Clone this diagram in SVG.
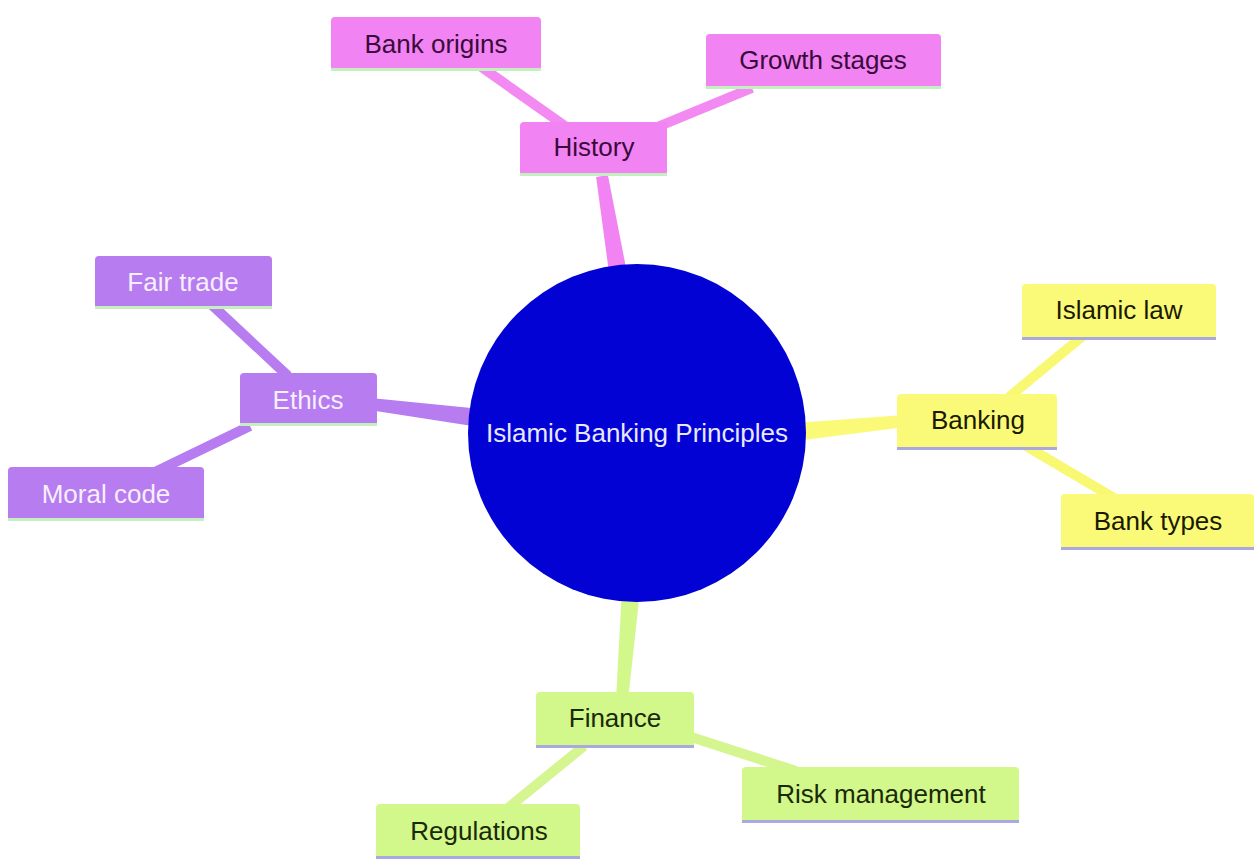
<svg xmlns="http://www.w3.org/2000/svg" width="1254" height="859" viewBox="0 0 1254 859">
<style>
text{font-family:"Liberation Sans",Arial,sans-serif;font-size:26px;text-anchor:middle;dominant-baseline:central}
.pk{fill:#f283f2}.pkL{stroke:#f28af2}.pkT{fill:#3a0a3a}
.pu{fill:#b67cf0}.puL{stroke:#b67cf0}.puT{fill:#f6efff}
.ye{fill:#fafa78}.yeL{stroke:#f8f872}.yeT{fill:#1a1a00}
.gr{fill:#d2f78a}.grL{stroke:#d4f590}.grT{fill:#1a2a08}
.bg{fill:#c4f0c0}.bb{fill:#aaa8e0}
.leaf{stroke-width:10;stroke-linecap:butt;fill:none}
</style>
<rect width="1254" height="859" fill="#ffffff"/>
<g id="connectors">
<polygon class="pk" points="628,278 607.9,175 596.1,177 610,280"/>
<polygon class="pu" points="481.1,409.1 370.75,398 369.25,410 478.9,426.9"/>
<polygon class="ye" points="795.9,441 905.6,427 904.4,415 794.1,423"/>
<polygon class="gr" points="640,590.7 628,700.5 616,699.5 622,589.3"/>
<line class="leaf pkL" x1="480" y1="66" x2="565" y2="126"/>
<line class="leaf pkL" x1="752" y1="88" x2="650" y2="130"/>
<line class="leaf puL" x1="212" y1="305" x2="288" y2="376"/>
<line class="leaf puL" x1="250" y1="426" x2="155" y2="472"/>
<line class="leaf yeL" x1="1084" y1="335" x2="1008" y2="398"/>
<line class="leaf yeL" x1="1026" y1="446" x2="1114" y2="498"/>
<line class="leaf grL" x1="584" y1="746" x2="508" y2="808"/>
<line class="leaf grL" x1="688" y1="736" x2="796" y2="771"/>
</g>
<g id="center">
<circle cx="637" cy="433" r="169" fill="#0202d4"/>
<text x="637" y="433" fill="#e8e8ff">Islamic Banking Principles</text>
</g>
<g id="history">
<rect class="pk" x="520" y="122" width="147" height="54" rx="4"/>
<rect class="bg" x="520" y="173" width="147" height="3"/>
<text class="pkT" x="594" y="147">History</text>
</g>
<g id="bank-origins">
<rect class="pk" x="331" y="17" width="210" height="54" rx="4"/>
<rect class="bg" x="331" y="68" width="210" height="3"/>
<text class="pkT" x="436" y="44">Bank origins</text>
</g>
<g id="growth-stages">
<rect class="pk" x="706" y="34" width="235" height="55" rx="4"/>
<rect class="bg" x="706" y="86" width="235" height="3"/>
<text class="pkT" x="823" y="60">Growth stages</text>
</g>
<g id="ethics">
<rect class="pu" x="240" y="373" width="137" height="53" rx="4"/>
<rect class="bg" x="240" y="423" width="137" height="3"/>
<text class="puT" x="308" y="400">Ethics</text>
</g>
<g id="fair-trade">
<rect class="pu" x="95" y="256" width="177" height="53" rx="4"/>
<rect class="bg" x="95" y="306" width="177" height="3"/>
<text class="puT" x="183" y="282">Fair trade</text>
</g>
<g id="moral-code">
<rect class="pu" x="8" y="467" width="196" height="54" rx="4"/>
<rect class="bg" x="8" y="518" width="196" height="3"/>
<text class="puT" x="106" y="494">Moral code</text>
</g>
<g id="banking">
<rect class="ye" x="897" y="394" width="160" height="56" rx="4"/>
<rect class="bb" x="897" y="447" width="160" height="3"/>
<text class="yeT" x="978" y="420">Banking</text>
</g>
<g id="islamic-law">
<rect class="ye" x="1022" y="284" width="194" height="56" rx="4"/>
<rect class="bb" x="1022" y="337" width="194" height="3"/>
<text class="yeT" x="1119" y="310">Islamic law</text>
</g>
<g id="bank-types">
<rect class="ye" x="1061" y="494" width="193" height="56" rx="4"/>
<rect class="bb" x="1061" y="547" width="193" height="3"/>
<text class="yeT" x="1158" y="521">Bank types</text>
</g>
<g id="finance">
<rect class="gr" x="536" y="692" width="158" height="56" rx="4"/>
<rect class="bb" x="536" y="745" width="158" height="3"/>
<text class="grT" x="615" y="718">Finance</text>
</g>
<g id="risk-management">
<rect class="gr" x="742" y="767" width="277" height="56" rx="4"/>
<rect class="bb" x="742" y="820" width="277" height="3"/>
<text class="grT" x="881" y="794">Risk management</text>
</g>
<g id="regulations">
<rect class="gr" x="376" y="804" width="204" height="55" rx="4"/>
<rect class="bb" x="376" y="856" width="204" height="3"/>
<text class="grT" x="479" y="831">Regulations</text>
</g>
</svg>
